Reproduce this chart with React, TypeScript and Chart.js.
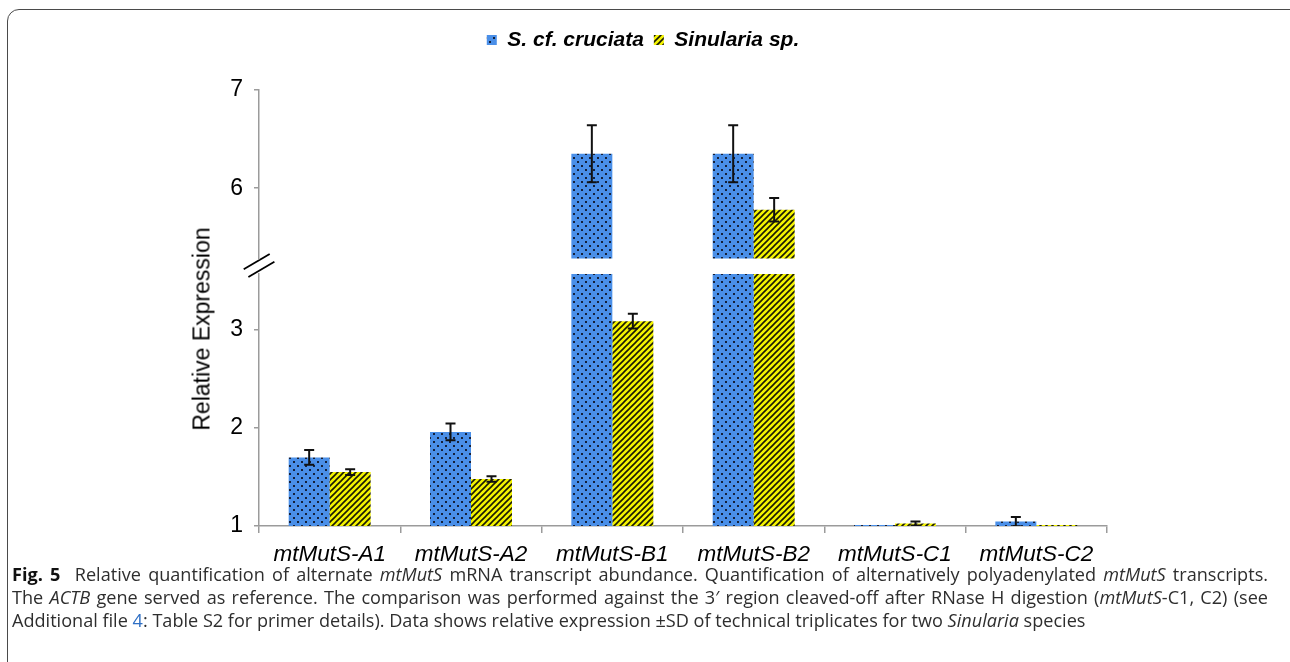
import React, { useEffect, useRef } from 'react';
import { Chart, registerables } from 'chart.js';

Chart.register(...registerables);

// ---------- data ----------
const categories = ['mtMutS-A1', 'mtMutS-A2', 'mtMutS-B1', 'mtMutS-B2', 'mtMutS-C1', 'mtMutS-C2'];
const seriesNames = ['S. cf. cruciata', 'Sinularia sp.'];
const cruciataValues = [1.7, 1.96, 6.35, 6.35, 1.01, 1.045];
const cruciataSD = [0.075, 0.085, 0.29, 0.29, 0, 0.048];
const sinulariaValues = [1.55, 1.48, 3.09, 5.78, 1.025, 1.01];
const sinulariaSD = [0.03, 0.028, 0.075, 0.12, 0.02, 0];
const upperTicks = [6, 7];
const lowerTicks = [1, 2, 3];
const upperRange = [5.284, 7];
const lowerRange = [1, 3.571];

// ---------- style ----------
const FONT = '"Liberation Sans", Arial, Helvetica, sans-serif';
const AXIS_GRAY = '#9b9b9b';
const BLUE = '#4a8fe8';
const YELLOW = '#f3f300';

function dotPattern(): CanvasPattern | string {
  const c = document.createElement('canvas');
  c.width = 8;
  c.height = 8;
  const g = c.getContext('2d');
  if (!g) return BLUE;
  g.fillStyle = BLUE;
  g.fillRect(0, 0, 8, 8);
  g.fillStyle = '#14203a';
  g.fillRect(1, 1, 2, 2);
  g.fillRect(5, 5, 2, 2);
  return g.createPattern(c, 'repeat') || BLUE;
}

function stripePattern(): CanvasPattern | string {
  const s = 6;
  const c = document.createElement('canvas');
  c.width = s;
  c.height = s;
  const g = c.getContext('2d');
  if (!g) return YELLOW;
  g.fillStyle = YELLOW;
  g.fillRect(0, 0, s, s);
  g.strokeStyle = '#1a1a05';
  g.lineWidth = 1.6;
  g.beginPath();
  g.moveTo(0, s);
  g.lineTo(s, 0);
  g.moveTo(-s / 2, s / 2);
  g.lineTo(s / 2, -s / 2);
  g.moveTo(s / 2, s * 1.5);
  g.lineTo(s * 1.5, s / 2);
  g.stroke();
  return g.createPattern(c, 'repeat') || YELLOW;
}

const errorBarPlugin = {
  id: 'errorBars',
  afterDatasetsDraw(chart: any) {
    const { ctx, chartArea } = chart;
    const yScale = chart.scales.y;
    ctx.save();
    ctx.beginPath();
    ctx.rect(chartArea.left, chartArea.top - 2, chartArea.right - chartArea.left, chartArea.bottom - chartArea.top + 2);
    ctx.clip();
    ctx.strokeStyle = '#111';
    ctx.lineWidth = 2;
    chart.data.datasets.forEach((ds: any, di: number) => {
      const meta = chart.getDatasetMeta(di);
      meta.data.forEach((bar: any, i: number) => {
        const v = ds.rawValues[i];
        const sd = ds.sd[i];
        if (!sd) return;
        const x = bar.x;
        const yHi = yScale.getPixelForValue(v + sd);
        const yLo = yScale.getPixelForValue(v - sd);
        ctx.beginPath();
        ctx.moveTo(x, yHi);
        ctx.lineTo(x, yLo);
        ctx.moveTo(x - 5, yHi);
        ctx.lineTo(x + 5, yHi);
        ctx.moveTo(x - 5, yLo);
        ctx.lineTo(x + 5, yLo);
        ctx.stroke();
      });
    });
    ctx.restore();
  },
};

const axisBreakPlugin = {
  id: 'axisBreak',
  afterDraw(chart: any) {
    const { ctx, chartArea } = chart;
    const cx = chartArea.left;
    const cy = chartArea.top - 8.5;
    ctx.save();
    ctx.strokeStyle = '#000';
    ctx.lineWidth = 1.8;
    const offs = [[-2.3, -3.9], [2.4, 3.9]];
    offs.forEach(([ox, oy]) => {
      ctx.beginPath();
      ctx.moveTo(cx + ox - 13, cy + oy + 7.7);
      ctx.lineTo(cx + ox + 13, cy + oy - 7.7);
      ctx.stroke();
    });
    ctx.restore();
  },
};

function yAxis(range: number[], ticks: number[]) {
  return {
    type: 'linear',
    min: range[0],
    max: range[1],
    afterBuildTicks: (s: any) => {
      s.ticks = ticks.map((v) => ({ value: v }));
    },
    afterFit: (s: any) => {
      s.width = 80;
    },
    border: { display: true, color: AXIS_GRAY, width: 1.5 },
    grid: { display: true, drawOnChartArea: false, drawTicks: true, tickLength: 5, color: AXIS_GRAY, lineWidth: 1.5 },
    ticks: { color: '#000', padding: 11, font: { family: FONT, size: 23 } },
  };
}

export default function App() {
  const topRef = useRef<HTMLCanvasElement>(null);
  const botRef = useRef<HTMLCanvasElement>(null);

  useEffect(() => {
    const blue = dotPattern();
    const yellow = stripePattern();
    const series = [
      { name: seriesNames[0], values: cruciataValues, sd: cruciataSD, color: blue },
      { name: seriesNames[1], values: sinulariaValues, sd: sinulariaSD, color: yellow },
    ];

    const common = {
      animation: false,
      responsive: false,
      devicePixelRatio: 1,
      events: [],
      categoryPercentage: 0.58,
      barPercentage: 1,
    };

    const top = new Chart(topRef.current as HTMLCanvasElement, {
      type: 'bar',
      data: {
        labels: categories,
        datasets: series.map((s) => ({
          label: s.name,
          data: s.values.map((v) => (v > upperRange[0] ? v : null)),
          rawValues: s.values,
          sd: s.sd,
          backgroundColor: s.color,
          borderWidth: 0,
          clip: 0,
        })) as any,
      },
      options: {
        ...common,
        layout: { padding: { left: 179, right: 183, top: 19.5, bottom: 321.5 } },
        plugins: {
          legend: {
            display: true,
            position: 'top',
            align: 'center',
            labels: {
              boxWidth: 10,
              boxHeight: 10,
              padding: 10,
              color: '#000',
              font: { family: FONT, size: 21, style: 'italic', weight: 'bold' },
            },
          },
          tooltip: { enabled: false },
        },
        scales: {
          x: {
            position: 'top',
            offset: true,
            grid: { display: false },
            border: { display: false },
            ticks: { display: false },
            afterFit: (s: any) => {
              s.height = 29.5;
            },
          },
          y: yAxis(upperRange, upperTicks),
        },
      } as any,
      plugins: [errorBarPlugin],
    });

    const bot = new Chart(botRef.current as HTMLCanvasElement, {
      type: 'bar',
      data: {
        labels: categories,
        datasets: series.map((s) => ({
          label: s.name,
          data: s.values,
          rawValues: s.values,
          sd: s.sd,
          backgroundColor: s.color,
          borderWidth: 0,
          clip: 0,
        })) as any,
      },
      options: {
        ...common,
        layout: { padding: { left: 179, right: 183, top: 274, bottom: 14 } },
        plugins: { legend: { display: false }, tooltip: { enabled: false } },
        scales: {
          x: {
            offset: true,
            grid: {
              display: true,
              offset: true,
              drawOnChartArea: false,
              drawTicks: true,
              tickLength: 7,
              color: AXIS_GRAY,
              lineWidth: 1.5,
            },
            border: { display: true, color: AXIS_GRAY, width: 1.5 },
            ticks: {
              color: '#000',
              padding: 8,
              maxRotation: 0,
              autoSkip: false,
              font: { family: FONT, size: 22.5, style: 'italic' },
            },
            afterFit: (s: any) => {
              s.height = 40;
            },
          },
          y: yAxis(lowerRange, lowerTicks),
        },
      } as any,
      plugins: [errorBarPlugin, axisBreakPlugin],
    });

    return () => {
      top.destroy();
      bot.destroy();
    };
  }, []);

  const canvasStyle: React.CSSProperties = { position: 'absolute', left: 0, top: 0, width: 1290, height: 580 };

  return (
    <div style={{ position: 'fixed', left: 0, top: 0, width: 1290, height: 662, overflow: 'hidden', background: '#fff' }}>
      <div
        style={{
          position: 'absolute',
          left: 7,
          top: 9,
          width: 1310,
          height: 720,
          border: '1.5px solid #4a4a4a',
          borderRadius: 12,
          boxSizing: 'border-box',
        }}
      />
      <canvas ref={botRef} width={1290} height={580} style={canvasStyle} />
      <canvas ref={topRef} width={1290} height={580} style={canvasStyle} />
      <div
        style={{
          position: 'absolute',
          left: 202,
          top: 329,
          transform: 'translate(-50%, -50%) rotate(-90deg)',
          whiteSpace: 'nowrap',
          fontFamily: FONT,
          fontSize: 23,
          color: '#000',
        }}
      >
        Relative Expression
      </div>
      <div
        style={{
          position: 'absolute',
          left: 12,
          top: 563,
          width: 1256,
          fontFamily: '"Open Sans", "Noto Sans", sans-serif',
          fontSize: 18.1,
          lineHeight: '23px',
          color: '#2e2e2e',
        }}
      >
        <div style={{ textAlign: 'justify', textAlignLast: 'justify' } as React.CSSProperties}>
          <b style={{ color: '#111' }}>Fig. 5</b>&nbsp;&nbsp;Relative quantification of alternate <i>mtMutS</i> mRNA
          transcript abundance. Quantification of alternatively polyadenylated <i>mtMutS</i> transcripts.
        </div>
        <div style={{ textAlign: 'justify', textAlignLast: 'justify' } as React.CSSProperties}>
          The <i>ACTB</i> gene served as reference. The comparison was performed against the 3′ region cleaved-off
          after RNase H digestion (<i>mtMutS</i>-C1, C2) (see
        </div>
        <div>
          Additional file <span style={{ color: '#2f6fc4' }}>4</span>: Table S2 for primer details). Data shows relative
          expression ±SD of technical triplicates for two <i>Sinularia</i> species
        </div>
      </div>
    </div>
  );
}
